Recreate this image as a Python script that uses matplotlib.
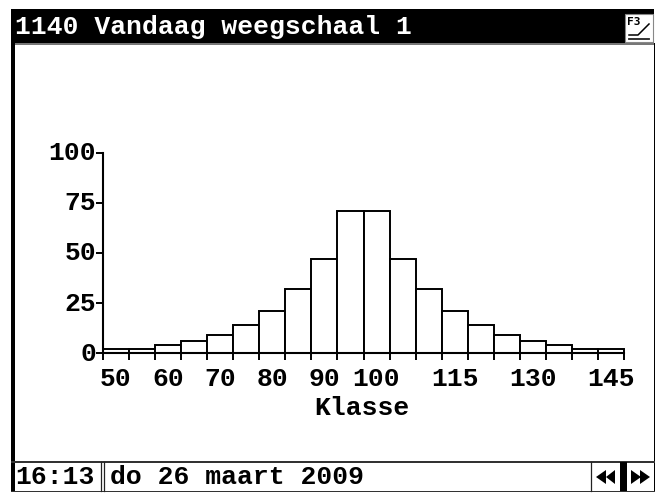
import matplotlib
matplotlib.use("Agg")
import matplotlib.pyplot as plt
from matplotlib.patches import Rectangle, Polygon
from matplotlib.transforms import ScaledTranslation

W, H = 656, 493
classes = list(range(50, 150, 5))
counts = [2, 2, 4, 6, 9, 14, 21, 32, 47, 71, 71, 47, 32, 21, 14, 9, 6, 4, 2, 2]
labelled = [50, 60, 70, 80, 90, 100, 115, 130, 145]
yticks = [0, 25, 50, 75, 100]
title = "1140 Vandaag weegschaal 1"
xlabel = "Klasse"
clock = "16:13"
date = "do 26 maart 2009"

FONT = "Liberation Mono"
FS = 19.0
fig = plt.figure(figsize=(W / 100, H / 100), dpi=100, facecolor="white")

# screen chrome, in pixel coordinates
ch = fig.add_axes([0, 0, 1, 1], zorder=0)
ch.set_xlim(0, W)
ch.set_ylim(H, 0)
ch.axis("off")
ch.add_patch(Rectangle((11, 9), 643, 34, fc="black", ec="none"))
ch.add_patch(Rectangle((11, 43), 644, 1.5, fc="#777777", ec="none"))
ch.add_patch(Rectangle((11, 43), 3.5, 449, fc="black", ec="none"))
ch.add_patch(Rectangle((653.5, 43), 1.2, 449, fc="black", ec="none"))
ch.add_patch(Rectangle((11, 461), 644, 2.4, fc="#333333", ec="none"))
ch.add_patch(Rectangle((11, 490.5), 644, 1.6, fc="#333333", ec="none"))
for x in (100.5, 103.5, 591):
    ch.plot([x, x], [462, 491], color="#222222", lw=0.9)
ch.add_patch(Rectangle((619.5, 462), 7.5, 29, fc="black", ec="none"))
ch.text(15, 27, title, color="white", family=FONT, weight="bold", fontsize=FS, va="center", ha="left")
ch.text(15, 476.5, clock, color="black", family=FONT, weight="bold", fontsize=FS, va="center", ha="left")
ch.text(110, 476.5, date, color="black", family=FONT, weight="bold", fontsize=FS, va="center", ha="left")

# F3 button
ch.add_patch(Rectangle((625, 14), 28, 28, fc="white", ec="#888888", lw=0.8))
ch.text(634, 22, "F3", color="black", family="DejaVu Sans Mono", weight="bold", fontsize=8, va="center", ha="center")
ch.plot([629, 638, 649], [35, 35, 24], color="black", lw=1.1)
ch.plot([629, 649], [39, 39], color="#222222", lw=1.3)

# arrow buttons
for pts in ([(606, 470), (606, 484), (596, 477)], [(615, 470), (615, 484), (606, 477)],
            [(631, 470), (631, 484), (641, 477)], [(640, 470), (640, 484), (650, 477)]):
    ch.add_patch(Polygon(pts, fc="black", ec="none"))

# histogram
left, right, top, bottom = 103, 624, 152.7, 353.3
ax = fig.add_axes([left / W, 1 - bottom / H, (right - left) / W, (bottom - top) / H], zorder=1)
ax.patch.set_alpha(0)
pos = list(range(len(classes)))
ax.bar(pos, counts, width=1.0, align="edge", fc="white", ec="black", lw=1.4, clip_on=False)
ax.set_xlim(0, len(classes))
ax.set_ylim(0, 100)
for s in ("top", "right"):
    ax.spines[s].set_visible(False)
for s in ("left", "bottom"):
    ax.spines[s].set_linewidth(1.5)
ax.set_xticks(range(len(classes) + 1))
ax.set_xticklabels([])
ax.set_xticks([classes.index(c) + 0.5 for c in labelled], minor=True)
ax.set_xticklabels([str(c) for c in labelled], minor=True, family=FONT, weight="bold", fontsize=FS)
ax.tick_params(axis="x", which="major", length=5, width=1.4)
ax.tick_params(axis="x", which="minor", length=0, pad=10)
ax.set_yticks(yticks)
ax.set_yticklabels([str(v) for v in yticks], family=FONT, weight="bold", fontsize=FS)
ax.tick_params(axis="y", length=5, width=1.4, pad=0)
shift = ScaledTranslation(0, 1.5 / 72, fig.dpi_scale_trans)
for lab in ax.get_yticklabels():
    lab.set_transform(lab.get_transform() + shift)
ax.set_xlabel(xlabel, family=FONT, weight="bold", fontsize=FS, labelpad=3)
ax.xaxis.set_label_coords(0.497, -0.215)

fig.savefig("out.png", dpi=100)
